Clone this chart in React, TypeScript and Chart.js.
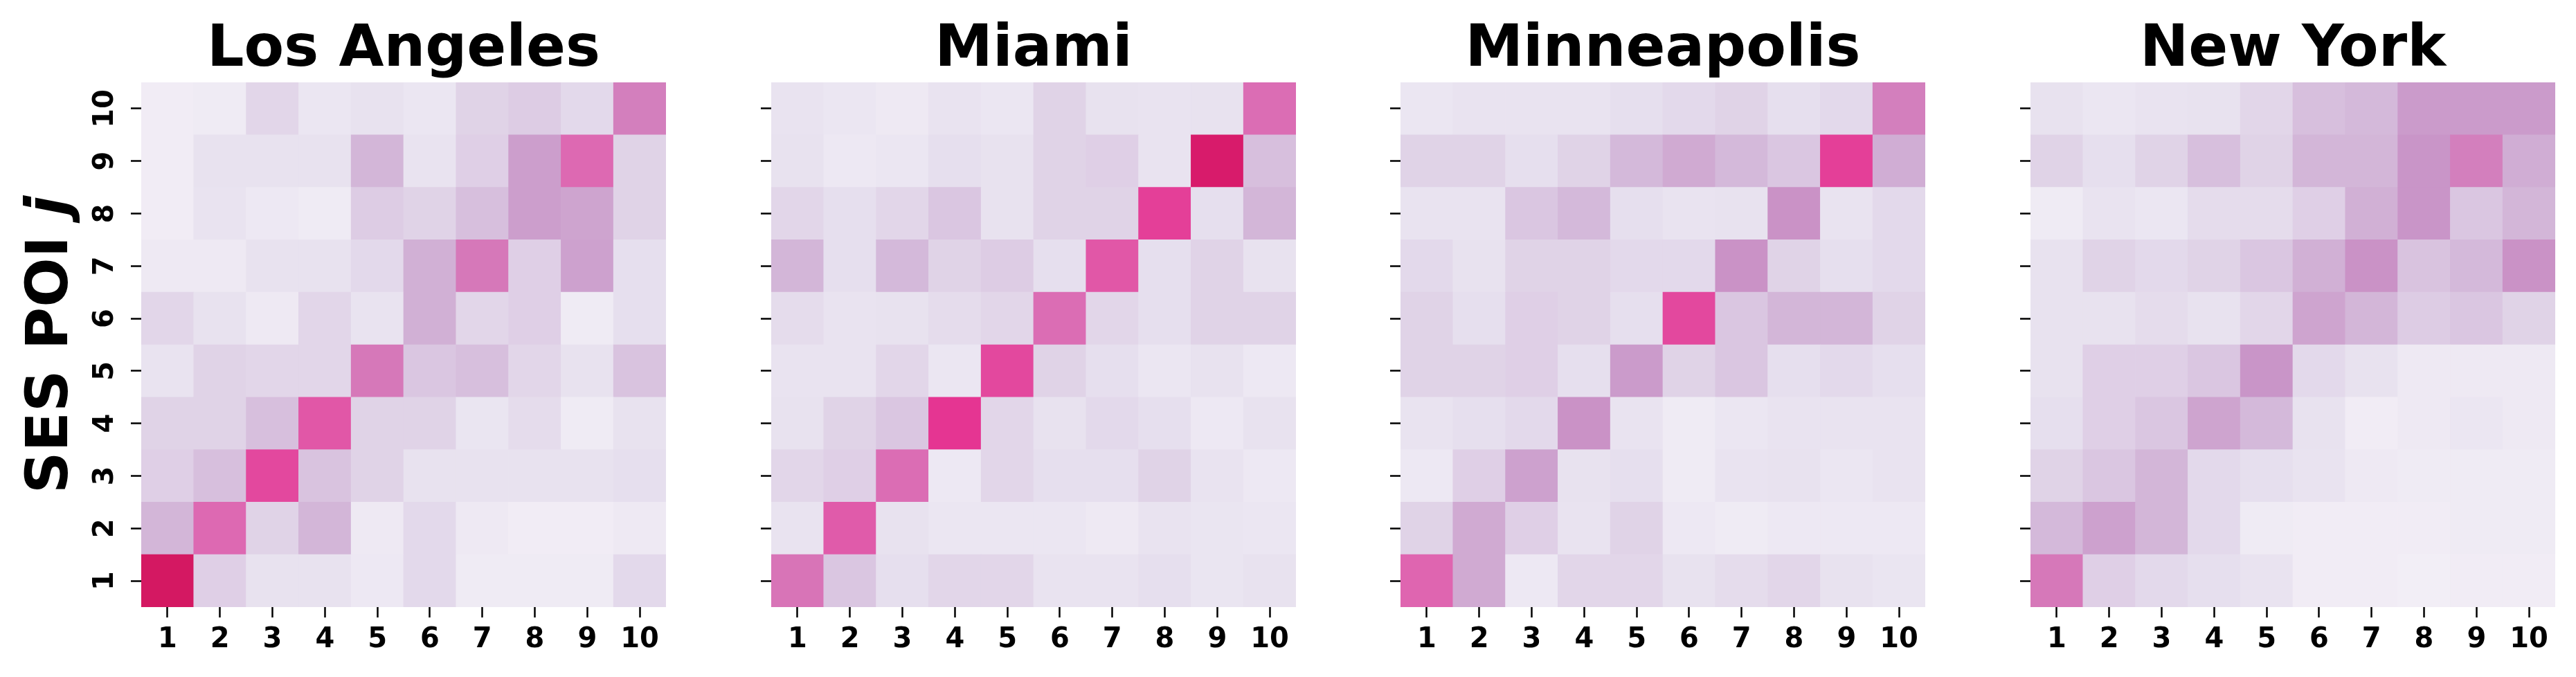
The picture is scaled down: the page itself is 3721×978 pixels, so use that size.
import React, { useEffect, useRef } from 'react';
import { Chart, registerables } from 'chart.js';

Chart.register(...registerables);

// ---------- data ----------
const CITIES = ['Los Angeles', 'Miami', 'Minneapolis', 'New York'];
const X_LABELS = ['1', '2', '3', '4', '5', '6', '7', '8', '9', '10'];
const Y_TICKS = [1, 2, 3, 4, 5, 6, 7, 8, 9, 10];
const Y_TITLE = 'SES POI ';
const Y_TITLE_MATH = 'j';

// rows listed from top (j = 10) down to bottom (j = 1); columns i = 1..10
const LOS_ANGELES = [
  [0.05, 0.06, 0.16, 0.09, 0.12, 0.09, 0.17, 0.19, 0.15, 0.43],
  [0.05, 0.12, 0.12, 0.12, 0.26, 0.11, 0.18, 0.34, 0.49, 0.17],
  [0.05, 0.11, 0.08, 0.06, 0.19, 0.17, 0.23, 0.34, 0.32, 0.17],
  [0.07, 0.07, 0.12, 0.12, 0.15, 0.28, 0.45, 0.18, 0.33, 0.13],
  [0.16, 0.12, 0.07, 0.16, 0.11, 0.28, 0.16, 0.18, 0.06, 0.13],
  [0.11, 0.17, 0.16, 0.16, 0.45, 0.21, 0.23, 0.16, 0.12, 0.22],
  [0.17, 0.17, 0.23, 0.53, 0.17, 0.17, 0.10, 0.14, 0.06, 0.12],
  [0.18, 0.23, 0.56, 0.22, 0.17, 0.12, 0.12, 0.12, 0.12, 0.13],
  [0.26, 0.49, 0.17, 0.26, 0.07, 0.15, 0.07, 0.05, 0.05, 0.07],
  [0.72, 0.18, 0.12, 0.12, 0.08, 0.15, 0.06, 0.06, 0.06, 0.15],
];

const MIAMI = [
  [0.11, 0.09, 0.07, 0.11, 0.09, 0.17, 0.12, 0.11, 0.12, 0.48],
  [0.12, 0.08, 0.09, 0.13, 0.12, 0.17, 0.18, 0.11, 0.70, 0.23],
  [0.16, 0.13, 0.16, 0.21, 0.12, 0.17, 0.17, 0.58, 0.13, 0.26],
  [0.26, 0.13, 0.25, 0.17, 0.19, 0.13, 0.53, 0.13, 0.17, 0.12],
  [0.14, 0.11, 0.12, 0.14, 0.16, 0.48, 0.16, 0.13, 0.17, 0.17],
  [0.11, 0.11, 0.16, 0.09, 0.56, 0.17, 0.13, 0.09, 0.12, 0.08],
  [0.12, 0.17, 0.21, 0.60, 0.16, 0.12, 0.15, 0.13, 0.08, 0.12],
  [0.16, 0.18, 0.48, 0.08, 0.16, 0.13, 0.13, 0.17, 0.11, 0.08],
  [0.11, 0.52, 0.12, 0.09, 0.09, 0.09, 0.07, 0.11, 0.10, 0.09],
  [0.46, 0.21, 0.13, 0.16, 0.16, 0.11, 0.11, 0.13, 0.10, 0.12],
];

const MINNEAPOLIS = [
  [0.09, 0.11, 0.11, 0.11, 0.13, 0.15, 0.17, 0.13, 0.15, 0.43],
  [0.17, 0.17, 0.13, 0.17, 0.25, 0.30, 0.25, 0.21, 0.58, 0.29],
  [0.11, 0.11, 0.21, 0.25, 0.13, 0.11, 0.12, 0.38, 0.11, 0.15],
  [0.15, 0.12, 0.17, 0.17, 0.15, 0.15, 0.38, 0.17, 0.13, 0.15],
  [0.17, 0.13, 0.18, 0.17, 0.13, 0.56, 0.21, 0.26, 0.26, 0.17],
  [0.17, 0.17, 0.18, 0.13, 0.35, 0.17, 0.21, 0.13, 0.15, 0.13],
  [0.11, 0.13, 0.15, 0.38, 0.11, 0.06, 0.09, 0.11, 0.11, 0.11],
  [0.08, 0.18, 0.33, 0.12, 0.13, 0.06, 0.11, 0.12, 0.09, 0.11],
  [0.17, 0.30, 0.18, 0.11, 0.17, 0.08, 0.06, 0.08, 0.08, 0.08],
  [0.50, 0.30, 0.08, 0.16, 0.16, 0.12, 0.14, 0.16, 0.12, 0.10],
];

const NEW_YORK = [
  [0.12, 0.09, 0.11, 0.12, 0.16, 0.23, 0.25, 0.35, 0.35, 0.35],
  [0.17, 0.13, 0.17, 0.23, 0.17, 0.26, 0.26, 0.37, 0.43, 0.29],
  [0.06, 0.11, 0.09, 0.14, 0.14, 0.18, 0.28, 0.37, 0.21, 0.26],
  [0.12, 0.17, 0.15, 0.17, 0.21, 0.28, 0.38, 0.22, 0.25, 0.38],
  [0.12, 0.12, 0.14, 0.12, 0.16, 0.32, 0.26, 0.19, 0.21, 0.17],
  [0.12, 0.18, 0.18, 0.21, 0.37, 0.15, 0.12, 0.07, 0.07, 0.07],
  [0.13, 0.18, 0.21, 0.32, 0.25, 0.12, 0.05, 0.07, 0.09, 0.07],
  [0.17, 0.21, 0.26, 0.15, 0.13, 0.11, 0.07, 0.06, 0.06, 0.06],
  [0.25, 0.33, 0.26, 0.15, 0.06, 0.05, 0.05, 0.05, 0.06, 0.06],
  [0.45, 0.18, 0.15, 0.13, 0.11, 0.05, 0.05, 0.04, 0.05, 0.05],
];

const MATRICES = [LOS_ANGELES, MIAMI, MINNEAPOLIS, NEW_YORK];

// ---------- style / layout ----------
const PURD: [number, string][] = [
  [0, '#f7f4f9'],
  [0.125, '#e7e1ef'],
  [0.25, '#d4b9da'],
  [0.375, '#c994c7'],
  [0.5, '#df65b0'],
  [0.625, '#e7298a'],
  [0.75, '#ce1256'],
  [0.875, '#980043'],
  [1, '#67001f'],
];

const FONT = '"DejaVu Sans", "Liberation Sans", sans-serif';
const PAGE_W = 3721;
const PAGE_H = 978;
const PANEL_LEFTS = [204, 1114, 2023, 2933];
const Y_AXIS_W = 204;
const PLOT_TOP = 119;
const PLOT_SIZE = 758;
const RIGHT_PAD = 20;
const CANVAS_W = Y_AXIS_W + PLOT_SIZE + RIGHT_PAD;

function hexToRgb(h: string): number[] {
  const n = parseInt(h.slice(1), 16);
  return [(n >> 16) & 255, (n >> 8) & 255, n & 255];
}

function colorFor(v: number): string {
  const t = Math.max(0, Math.min(1, v));
  for (let k = 0; k < PURD.length - 1; k++) {
    const [a, ca] = PURD[k];
    const [b, cb] = PURD[k + 1];
    if (t <= b) {
      const f = (t - a) / (b - a);
      const A = hexToRgb(ca);
      const B = hexToRgb(cb);
      const c = A.map((x, i) => Math.round(x + (B[i] - x) * f));
      return `rgb(${c[0]},${c[1]},${c[2]})`;
    }
  }
  return PURD[PURD.length - 1][1];
}

const titlePlugin = {
  id: 'panelTitle',
  afterDraw(chart: any, _args: any, opts: any) {
    const { ctx, chartArea } = chart;
    ctx.save();
    ctx.font = `bold 84px ${FONT}`;
    ctx.fillStyle = '#000';
    ctx.textAlign = 'center';
    ctx.textBaseline = 'alphabetic';
    ctx.fillText(opts.text, (chartArea.left + chartArea.right) / 2, chartArea.top - 24);
    ctx.restore();
  },
};

const yTitlePlugin = {
  id: 'yTitle',
  afterDraw(chart: any) {
    const { ctx, chartArea } = chart;
    const cy = (chartArea.top + chartArea.bottom) / 2;
    ctx.save();
    ctx.translate(97, cy);
    ctx.rotate(-Math.PI / 2);
    ctx.fillStyle = '#000';
    ctx.textBaseline = 'alphabetic';
    ctx.textAlign = 'left';
    const f1 = `bold 84px ${FONT}`;
    const f2 = `italic bold 84px ${FONT}`;
    ctx.font = f1;
    const w1 = ctx.measureText(Y_TITLE).width;
    ctx.font = f2;
    const w2 = ctx.measureText(Y_TITLE_MATH).width;
    const start = -(w1 + w2) / 2;
    ctx.font = f1;
    ctx.fillText(Y_TITLE, start, 0);
    ctx.font = f2;
    ctx.fillText(Y_TITLE_MATH, start + w1, 0);
    ctx.restore();
  },
};

function Heatmap({ index }: { index: number }) {
  const ref = useRef<HTMLCanvasElement>(null);
  useEffect(() => {
    const values = MATRICES[index];
    const showY = index === 0;
    const datasets = Y_TICKS.map((j) => {
      const row = values[Y_TICKS.length - j];
      return {
        label: `j=${j}`,
        data: X_LABELS.map(() => [j - 0.5, j + 0.5]),
        backgroundColor: row.map(colorFor),
        borderWidth: 0,
        barPercentage: 1,
        categoryPercentage: 1,
        grouped: false,
      };
    });
    const tickFont = { family: FONT, size: 40, weight: 'bold' as const };
    const chart = new Chart(ref.current as HTMLCanvasElement, {
      type: 'bar',
      data: { labels: X_LABELS, datasets: datasets as any },
      options: {
        animation: false,
        responsive: false,
        maintainAspectRatio: false,
        events: [],
        layout: { padding: { left: 0, top: PLOT_TOP, right: RIGHT_PAD, bottom: 0 } },
        plugins: {
          legend: { display: false },
          tooltip: { enabled: false },
          title: { display: false },
          panelTitle: { text: CITIES[index] },
        } as any,
        scales: {
          x: {
            type: 'category',
            offset: true,
            border: { display: false },
            grid: {
              display: true,
              drawOnChartArea: false,
              drawTicks: true,
              tickLength: 15,
              tickWidth: 2.5,
              tickColor: '#000',
              offset: false,
            },
            ticks: { color: '#000', font: tickFont, padding: 9, maxRotation: 0, autoSkip: false },
            afterFit: (s: any) => {
              s.height = PAGE_H - PLOT_TOP - PLOT_SIZE;
            },
          },
          y: {
            type: 'linear',
            min: 0.5,
            max: 10.5,
            afterBuildTicks: (s: any) => {
              s.ticks = Y_TICKS.map((v) => ({ value: v }));
            },
            border: { display: false },
            grid: {
              display: true,
              drawOnChartArea: false,
              drawTicks: true,
              tickLength: 15,
              tickWidth: 2.5,
              tickColor: '#000',
            },
            ticks: {
              color: showY ? '#000' : 'rgba(0,0,0,0)',
              font: tickFont,
              padding: 9,
              minRotation: 90,
              maxRotation: 90,
              crossAlign: 'center',
              autoSkip: false,
            },
            afterFit: (s: any) => {
              s.width = Y_AXIS_W;
            },
          },
        } as any,
      },
      plugins: showY ? [titlePlugin, yTitlePlugin] : [titlePlugin],
    });
    return () => chart.destroy();
  }, [index]);

  return (
    <canvas
      ref={ref}
      width={CANVAS_W}
      height={PAGE_H}
      style={{
        position: 'absolute',
        left: PANEL_LEFTS[index] - Y_AXIS_W,
        top: 0,
        width: CANVAS_W,
        height: PAGE_H,
      }}
    />
  );
}

export default function App() {
  return (
    <div
      style={{
        position: 'absolute',
        left: 0,
        top: 0,
        width: PAGE_W,
        height: PAGE_H,
        background: '#fff',
        overflow: 'hidden',
      }}
    >
      {CITIES.map((c, i) => (
        <Heatmap key={c} index={i} />
      ))}
    </div>
  );
}
